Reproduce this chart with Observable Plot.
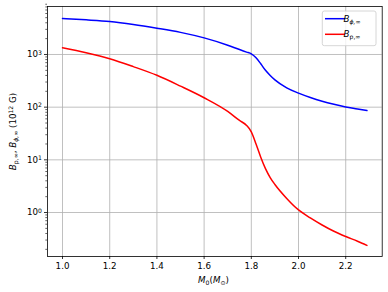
<!DOCTYPE html>
<html>
<head>
<meta charset="utf-8">
<script src="https://cdn.jsdelivr.net/npm/d3@7"></script>
<script src="https://cdn.jsdelivr.net/npm/@observablehq/plot@0.6"></script>
<style>
  html, body { margin: 0; padding: 0; background: #fff; }
  svg { display: block; }
</style>
</head>
<body>
<div id="chart"></div>
<script>
// Data
const mass = [1.0, 1.1, 1.2, 1.3, 1.4, 1.5, 1.6, 1.7, 1.75, 1.78, 1.8, 1.82, 1.84, 1.86, 1.88, 1.9, 1.95, 2.0, 2.05, 2.1, 2.15, 2.2, 2.25, 2.29];
const Bphi = [4820, 4550, 4230, 3720, 3160, 2630, 2065, 1500, 1240, 1110, 1030, 865, 665, 500, 400, 330, 233, 185, 153, 130, 113.5, 101, 92.5, 86];
const Bp   = [1340, 1077, 830, 589, 403, 251, 151, 83, 56, 45, 34, 20, 11.2, 6.8, 4.6, 3.4, 1.85, 1.12, 0.79, 0.58, 0.44, 0.35, 0.285, 0.238];
const xTicks = [1.0, 1.2, 1.4, 1.6, 1.8, 2.0, 2.2];
const yMajor = [1, 10, 100, 1000];
const yExponents = ["0", "1", "2", "3"];
const seriesNames = ["B_phi", "B_p"];
const seriesColors = ["#0000ff", "#ff0000"];

const rows = [];
mass.forEach((m, i) => {
  rows.push({m, v: Bphi[i], s: seriesNames[0]});
  rows.push({m, v: Bp[i], s: seriesNames[1]});
});
const yMinor = [];
for (let e = -1; e <= 3; e++) for (let k = 2; k <= 9; k++) yMinor.push(k * Math.pow(10, e));

const font = "DejaVu Sans, sans-serif";
const fs = 8.7, sfs = 6.1;
const chart = Plot.plot({
  width: 388,
  height: 292,
  marginLeft: 47,
  marginRight: 6.3,
  marginTop: 6,
  marginBottom: 36,
  style: {fontFamily: font, fontSize: fs + "px", background: "#fff", color: "#000"},
  x: {domain: [0.9364, 2.3546], label: null},
  y: {type: "log", domain: [0.1462, 8147], label: null},
  color: {domain: seriesNames, range: seriesColors},
  marks: [
    Plot.gridX(xTicks, {stroke: "#b0b0b0", strokeOpacity: 1, strokeWidth: 0.8}),
    Plot.gridY(yMajor, {stroke: "#b0b0b0", strokeOpacity: 1, strokeWidth: 0.8}),
    Plot.axisX(xTicks, {tickSize: 3, tickPadding: 3, tickFormat: d3.format(".1f"), label: null, strokeWidth: 0.8}),
    Plot.axisY(yMajor, {tickSize: 3, tickPadding: 2.5, tickFormat: d => "10", label: null, strokeWidth: 0.8}),
    Plot.axisY(yMinor, {tickSize: 1.7, tickFormat: () => "", label: null, strokeWidth: 0.6}),
    Plot.line(rows, {x: "m", y: "v", z: "s", stroke: "s", strokeWidth: 1.5, curve: "monotone-x"}),
    Plot.frame({stroke: "#000", strokeWidth: 0.8})
  ]
});
document.getElementById("chart").appendChild(chart);

const svg = d3.select(chart);

// superscript exponents on the y tick labels (texts are in data order)
let k = 0;
svg.selectAll("text").each(function() {
  if (this.textContent !== "10") return;
  const exp = yExponents[k++];
  if (exp === undefined) return;
  const t = d3.select(this);
  t.append("tspan").attr("dy", "-0.45em").attr("font-size", sfs).text(exp);
});

// Legend
const lg = svg.append("g");
lg.append("rect").attr("x", 322.3).attr("y", 11).attr("width", 53.7).attr("height", 34.7)
  .attr("rx", 2).attr("fill", "#fff").attr("fill-opacity", 0.8).attr("stroke", "#cccccc").attr("stroke-width", 0.8);
const legendItems = [
  {y: 18.7, c: seriesColors[0], sub: "ϕ,∞", subItalic: true},
  {y: 34.3, c: seriesColors[1], sub: "p,∞", subItalic: false}
];
legendItems.forEach(it => {
  lg.append("line").attr("x1", 325).attr("x2", 345).attr("y1", it.y).attr("y2", it.y)
    .attr("stroke", it.c).attr("stroke-width", 1.5);
  const t = lg.append("text").attr("x", 352).attr("y", it.y + 3)
    .attr("font-family", font).attr("font-size", fs).attr("fill", "#000");
  t.append("tspan").attr("font-style", "italic").text("B");
  t.append("tspan").attr("dy", 2).attr("font-size", sfs).attr("font-style", it.subItalic ? "italic" : "normal").text(it.sub);
});

// x label
const xl = svg.append("text").attr("x", 213.5).attr("y", 283).attr("text-anchor", "middle")
  .attr("font-family", font).attr("font-size", fs).attr("fill", "#000");
xl.append("tspan").attr("font-style", "italic").text("M");
xl.append("tspan").attr("dy", 1.9).attr("font-size", sfs).text("0");
xl.append("tspan").attr("dy", -1.9).text("(");
xl.append("tspan").attr("font-style", "italic").text("M");
xl.append("tspan").attr("dy", 1.9).attr("font-size", sfs).text("⊙");
xl.append("tspan").attr("dy", -1.9).text(")");

// y label
const yl = svg.append("text").attr("transform", "translate(16,131.5) rotate(-90)").attr("text-anchor", "middle")
  .attr("font-family", font).attr("font-size", fs).attr("fill", "#000");
yl.append("tspan").attr("font-style", "italic").text("B");
yl.append("tspan").attr("dy", 1.9).attr("font-size", sfs).text("p,∞");
yl.append("tspan").attr("dy", -1.9).text(", ");
yl.append("tspan").attr("font-style", "italic").text("B");
yl.append("tspan").attr("dy", 1.9).attr("font-size", sfs).attr("font-style", "italic").text("ϕ,∞");
yl.append("tspan").attr("dy", -1.9).text(" (10");
yl.append("tspan").attr("dy", -3.2).attr("font-size", sfs).text("12");
yl.append("tspan").attr("dy", 3.2).text(" G)");
</script>
</body>
</html>
